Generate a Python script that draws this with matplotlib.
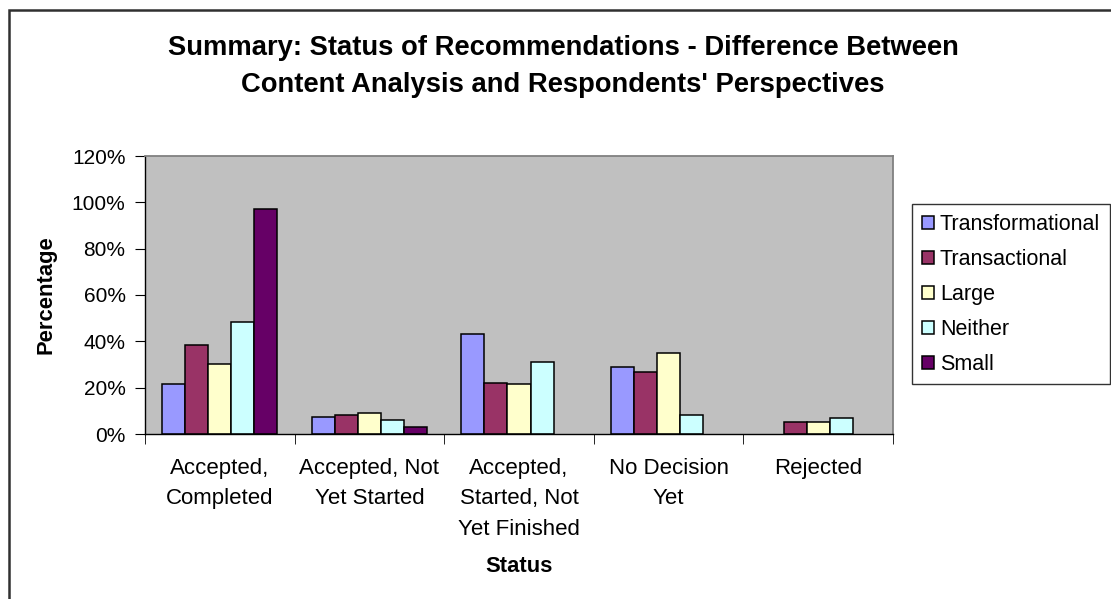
import matplotlib
matplotlib.use("Agg")
import matplotlib.pyplot as plt
import numpy as np
from matplotlib.patches import Rectangle

plt.rcParams['font.family'] = ['Liberation Sans', 'DejaVu Sans']

categories = ["Accepted,\nCompleted", "Accepted, Not\nYet Started",
              "Accepted,\nStarted, Not\nYet Finished", "No Decision\nYet", "Rejected"]
series_names = ["Transformational", "Transactional", "Large", "Neither", "Small"]
transformational = [21.5, 7.3, 43.1, 28.9, 0.0]
transactional = [38.6, 8.2, 22.2, 26.8, 5.0]
large = [30.4, 8.9, 21.5, 35.0, 5.0]
neither = [48.2, 6.0, 31.2, 8.1, 6.8]
small = [97.2, 3.0, 0.0, 0.0, 0.0]
yticks = [0, 20, 40, 60, 80, 100, 120]
colors = ["#9999FF", "#993366", "#FFFFCC", "#CCFFFF", "#660066"]

series = [transformational, transactional, large, neither, small]

W, H = 1111, 599
fig = plt.figure(figsize=(W / 100, H / 100), dpi=100)
ax = fig.add_axes([145 / W, 1 - 434 / H, (893 - 145) / W, (434 - 156) / H])
ax.set_facecolor("#C0C0C0")

n = len(series)
bw = 1 / (n + 1.5)
x = np.arange(len(categories))
for i, (vals, name, c) in enumerate(zip(series, series_names, colors)):
    xs = x + (i - (n - 1) / 2) * bw
    vals = np.array(vals, dtype=float)
    mask = vals > 0
    ax.bar(xs[mask], vals[mask], width=bw, color=c, edgecolor="black", linewidth=1.1, label=name)

ax.set_xlim(-0.5, len(categories) - 0.5)
ax.set_ylim(0, 120)
ax.set_yticks(yticks)
ax.set_yticklabels([f"{t}%" for t in yticks], fontsize=15)
ax.set_xticks(x)
ax.set_xticklabels(categories, fontsize=16, linespacing=1.6, va="top")
ax.tick_params(axis="x", length=0, pad=17)
ax.set_xticks(np.arange(len(categories) + 1) - 0.5, minor=True)
ax.tick_params(axis="x", which="minor", length=7, direction="out", color="black")
ax.tick_params(axis="y", length=7, direction="out", pad=7, color="black")

for s in ["top", "right"]:
    ax.spines[s].set_color("#808080")
    ax.spines[s].set_linewidth(1.3)
for s in ["left", "bottom"]:
    ax.spines[s].set_color("black")
    ax.spines[s].set_linewidth(1.0)

ax.set_ylabel("Percentage", fontsize=15.8, fontweight="bold", labelpad=11)
ax.set_xlabel("Status", fontsize=15.8, fontweight="bold", labelpad=12)

fig.text(563 / W, 1 - 66.5 / H,
         "Summary: Status of Recommendations - Difference Between\nContent Analysis and Respondents' Perspectives",
         ha="center", va="center", fontsize=19.7, fontweight="bold", linespacing=1.52)

leg = ax.legend(loc="upper left", bbox_to_anchor=(912 / W, 1 - 204 / H),
                bbox_transform=fig.transFigure, fontsize=15.5, frameon=True,
                fancybox=False, edgecolor="black", handlelength=0.55, handleheight=0.55,
                handletextpad=0.3, labelspacing=0.65, borderpad=0.45, borderaxespad=0)
leg.get_frame().set_linewidth(1.0)

fig.add_artist(Rectangle((9 / W, -0.1), 1.2, 1 - 10 / H + 0.1, transform=fig.transFigure,
                         fill=False, edgecolor="#303030", linewidth=1.8))

fig.savefig("out.png", dpi=100)
